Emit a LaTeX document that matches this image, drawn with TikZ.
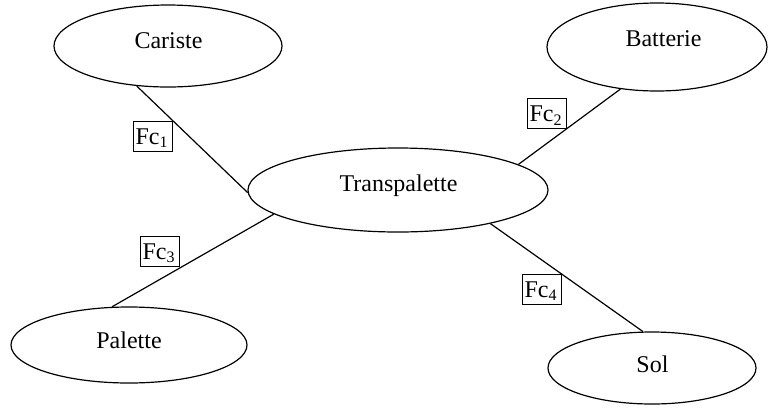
\documentclass[tikz,border=0pt]{standalone}
\usepackage{fontspec}
\setmainfont{Liberation Serif}
\usetikzlibrary{shapes.geometric}
\tikzset{
  ell/.style={draw, ellipse, line width=1.2pt, inner sep=0pt},
  lbl/.style={font=\fontsize{24}{28}\selectfont, inner sep=0pt, anchor=base},
  fcbox/.style={draw, line width=0.9pt, inner sep=0pt, minimum width=39pt, minimum height=30pt,
    text height=16pt, text depth=0pt, font=\fontsize{24}{28}\selectfont},
  link/.style={line width=1.2pt}
}
\newcommand{\fcl}[1]{\makebox[36pt][l]{\hspace{1pt}Fc\raisebox{-3.5pt}{\fontsize{16}{16}\selectfont #1}}}
\begin{document}
\begin{tikzpicture}[x=1pt,y=-1pt]
\useasboundingbox (0,0) rectangle (769,408);
\node[ell, minimum width=228pt, minimum height=82pt] (cariste) at (168,46) {};
\node[ell, minimum width=220pt, minimum height=88pt] (batterie) at (657,47) {};
\node[ell, minimum width=300pt, minimum height=84pt] (trans) at (398,190) {};
\node[ell, minimum width=236pt, minimum height=76pt] (palette) at (129,345) {};
\node[ell, minimum width=208pt, minimum height=72pt] (sol) at (652,368) {};

\node[lbl] (tcariste) at (168.5,48) {Cariste};
\node[lbl] (tbatterie) at (663.5,46) {Batterie};
\node[lbl] (ttrans) at (398.5,191) {Transpalette};
\node[lbl] (tpalette) at (129,348) {Palette};
\node[lbl] (tsol) at (652.5,372) {Sol};

\draw[link] (cariste.232.9) -- (trans.181.2);
\draw[link] (batterie.229.8) -- (trans.12.1);
\draw[link] (palette.114.7) -- (trans.191.3);
\draw[link] (sol.104) -- (trans.-20.5);

\node[fcbox] (fc1) at (152.5,136) {\fcl{1}};
\node[fcbox] (fc2) at (546.5,113.5) {\fcl{2}};
\node[fcbox] (fc3) at (159.5,251) {\fcl{3}};
\node[fcbox] (fc4) at (541.5,289) {\fcl{4}};
\end{tikzpicture}
\end{document}
